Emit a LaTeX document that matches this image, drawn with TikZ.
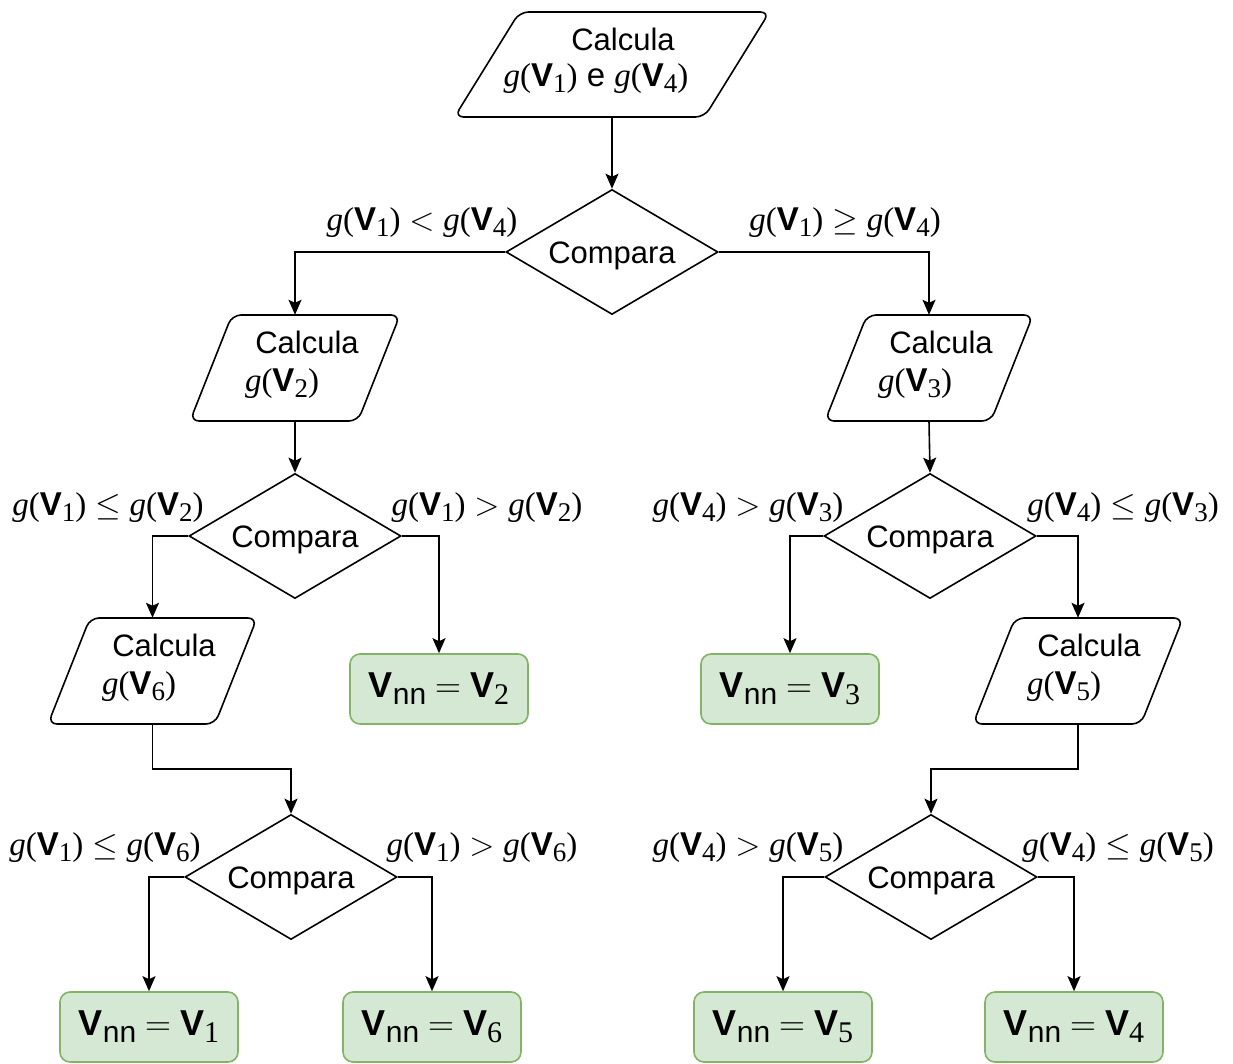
\RequirePackage{fix-cm}
\documentclass[tikz,border=0pt]{standalone}
\usepackage{fontspec}
\setmainfont{Liberation Sans}
\newfontfamily\serf{Liberation Serif}
\usetikzlibrary{shapes.geometric,arrows.meta}
\definecolor{gfill}{HTML}{D5E8D4}
\definecolor{gline}{HTML}{82B366}
\newcommand\tsz{\fontsize{31}{36}\selectfont}
\newcommand\msz{\fontsize{33}{38}\selectfont}
\newcommand\ssz{\fontsize{27}{30}\selectfont}
\newcommand\vsub[1]{\textbf{V}\raisebox{-6pt}{\serf\ssz #1}}
\newcommand\gv[1]{{\serf\itshape g}{\serf(}\vsub{#1}{\serf)}}
\newcommand\rel[1]{\hspace{0.27em}$#1$\hspace{0.27em}}
\newcommand\rsz{\fontsize{36}{40}\selectfont}
\newcommand\rssz{\fontsize{30}{34}\selectfont}
\newcommand\vnn[1]{\textbf{V}\raisebox{-7pt}{\rssz nn}\hspace{0.25em}$=$\hspace{0.25em}\textbf{V}\raisebox{-7pt}{\serf\rssz #1}}
\newcommand\cmp{\raisebox{-4pt}[\height][\depth]{Compara}}
\tikzset{
  shp/.style={line width=1.6pt, draw=black},
  conn/.style={line width=1.6pt, -{Stealth[length=15pt,width=13pt,inset=3pt]}},
  dia/.style={diamond, shp, minimum width=212pt, minimum height=125pt, aspect=1.7, inner sep=0pt, font=\tsz},
  res/.style={rectangle, rounded corners=10pt, line width=1.6pt, draw=gline, fill=gfill,
              minimum width=178pt, minimum height=70pt, inner sep=0pt, font=\rsz},
  txt/.style={inner sep=0pt, font=\tsz},
  mth/.style={inner sep=0pt, font=\msz},
}
% name, cx, cy, half bounding width, half height, skew
\newcommand\parabox[6]{%
  \node[minimum width={2*#4-#6}, minimum height={2*#5}, inner sep=0pt] (#1) at (#2,#3) {};
  \draw[shp, rounded corners=9pt] (#2-#4+#6,#3-#5) -- (#2+#4,#3-#5) -- (#2+#4-#6,#3+#5) -- (#2-#4,#3+#5) -- cycle;
}
\begin{document}
\begin{tikzpicture}[x=1pt,y=-1pt]
\useasboundingbox (0,0) rectangle (1233,1064);
% parallelograms
\parabox{p1}{612}{64.5}{157.5}{52.5}{65}
\parabox{p2}{295}{368}{105}{53}{42}
\parabox{p3}{929}{368}{104}{53}{42}
\parabox{p6}{152.5}{671}{104.5}{53}{42}
\parabox{p5}{1078}{671}{105}{53}{42}
\node[txt] (t1a) at (623,39) {Calcula};
\node[mth] (t1b) at (596,79) {\gv{1} e \gv{4}};
\node[txt] (t2a) at (307,342) {Calcula};
\node[mth] (t2b) at (282,384) {\gv{2}};
\node[txt] (t3a) at (941,342) {Calcula};
\node[mth] (t3b) at (915,384) {\gv{3}};
\node[txt] (t6a) at (164,645) {Calcula};
\node[mth] (t6b) at (139,687) {\gv{6}};
\node[txt] (t5a) at (1089,645) {Calcula};
\node[mth] (t5b) at (1064,687) {\gv{5}};
% diamonds
\node[dia] (d1) at (612,252) {\cmp};
\node[dia] (d2) at (295,536) {\cmp};
\node[dia] (d3) at (930,536) {\cmp};
\node[dia] (d4) at (291,877) {\cmp};
\node[dia] (d5) at (931,877) {\cmp};
% results
\node[res] (r2) at (439,689) {\vnn{2}};
\node[res] (r3) at (790,689) {\vnn{3}};
\node[res] (r1) at (149,1027) {\vnn{1}};
\node[res] (r6) at (432,1027) {\vnn{6}};
\node[res] (r5) at (783,1027) {\vnn{5}};
\node[res] (r4) at (1074,1027) {\vnn{4}};
% labels
\node[mth] (l1) at (422,223) {\gv{1}\rel{<}\gv{4}};
\node[mth] (l2) at (845,223) {\gv{1}\rel{\geq}\gv{4}};
\node[mth] (l3) at (108,508) {\gv{1}\rel{\leq}\gv{2}};
\node[mth] (l4) at (487,508) {\gv{1}\rel{>}\gv{2}};
\node[mth] (l5) at (748,508) {\gv{4}\rel{>}\gv{3}};
\node[mth] (l6) at (1123,508) {\gv{4}\rel{\leq}\gv{3}};
\node[mth] (l7) at (105,848) {\gv{1}\rel{\leq}\gv{6}};
\node[mth] (l8) at (482,848) {\gv{1}\rel{>}\gv{6}};
\node[mth] (l9) at (748,848) {\gv{4}\rel{>}\gv{5}};
\node[mth] (l10) at (1118,848) {\gv{4}\rel{\leq}\gv{5}};
% connectors
\draw[conn] (p1.south) -- (d1.north);
\draw[conn] (d1.west) -| (p2.north);
\draw[conn] (d1.east) -| (p3.north);
\draw[conn] (p2.south) -- (d2.north);
\draw[conn] (p3.south) -- (d3.north);
\draw[conn] (d2.west) -| (p6.north);
\draw[conn] (d2.east) -| (r2.north);
\draw[conn] (d3.west) -| (r3.north);
\draw[conn] (d3.east) -| (p5.north);
\draw[conn] (p6.south) -- ++(0,45) -| (d4.north);
\draw[conn] (p5.south) -- ++(0,45) -| (d5.north);
\draw[conn] (d4.west) -| (r1.north);
\draw[conn] (d4.east) -| (r6.north);
\draw[conn] (d5.west) -| (r5.north);
\draw[conn] (d5.east) -| (r4.north);
\end{tikzpicture}
\end{document}
